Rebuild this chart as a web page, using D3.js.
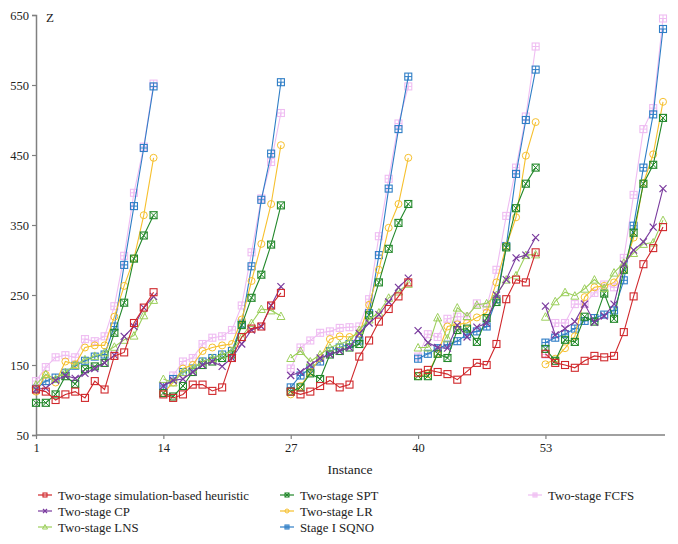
<!DOCTYPE html>
<html><head><meta charset="utf-8">
<script src="https://cdn.jsdelivr.net/npm/d3@7"></script>
<style>body{margin:0;background:#fff}svg{display:block}svg text{font-family:"Liberation Serif","DejaVu Serif","Times New Roman",serif}</style>
</head><body><svg id="c" width="678" height="544"></svg>
<script>
const instances = d3.range(1, 66);
const xTicks = [1, 14, 27, 40, 53];
const yTicks = [50, 150, 250, 350, 450, 550, 650];
const groupSize = 13;
const seriesNames = ["Two-stage simulation-based heuristic","Two-stage CP","Two-stage LNS","Two-stage SPT","Two-stage LR","Stage I SQNO","Two-stage FCFS"];
const heuristic = [115,112,100,108,112,103,127,115,163,168,210,232,254, 108,103,108,122,122,113,118,160,190,202,205,235,253, 112,108,112,120,128,118,122,162,185,212,230,248,268, 139,143,140,137,129,141,153,150,180,244,272,268,311, 166,153,150,146,156,163,161,163,197,248,294,317,347];
const cp = [115,117,128,135,131,138,145,153,164,191,205,232,248, 120,128,130,140,150,155,148,160,180,200,205,235,262, 135,140,150,160,165,170,175,195,210,222,240,261,274, 199,182,175,174,207,190,204,210,250,272,303,307,332, 234,193,202,212,237,211,220,237,294,314,326,347,402];
const lns = [122,137,130,140,150,158,163,168,176,186,192,221,243, 130,125,140,145,155,160,165,170,190,210,230,228,220, 160,170,155,165,175,180,185,200,215,225,246,255,266, 175,175,218,188,232,220,236,238,250,272,278,307,308, 219,241,254,249,259,272,260,282,296,310,323,325,357];
const spt = [96,96,108,134,123,144,148,153,196,239,302,335,364, 110,105,120,140,150,155,160,165,207,246,279,322,378, 112,118,138,130,165,170,175,180,221,268,316,353,380, 134,134,166,160,200,202,183,217,240,318,374,409,432, 173,156,186,183,219,212,252,216,286,339,409,436,503];
const lr = [112,136,125,155,151,175,178,178,219,263,302,364,446, 110,125,145,150,170,175,178,180,215,270,323,380,464, 108,120,140,160,187,191,190,195,236,286,346,380,446, 134,137,166,205,208,210,218,225,268,320,361,449,497, 151,159,174,191,247,261,263,268,287,332,410,451,526];
const sqno = [116,127,132,139,149,156,162,165,205,293,377,460,548, 120,130,140,145,155,160,165,170,209,291,386,452,554, 118,135,145,155,170,175,180,185,224,307,402,487,562, 159,166,174,179,184,194,198,205,244,320,423,500,572, 182,189,194,202,213,217,222,228,271,349,432,508,630];
const fcfs = [127,147,161,164,161,187,184,191,234,306,396,462,552, 120,135,155,160,180,189,191,200,235,311,388,440,510, 145,175,185,196,198,203,204,205,244,334,416,495,548, 162,194,190,216,219,219,238,233,286,363,432,505,605, 165,210,210,237,237,253,265,261,303,393,487,517,645];

const seriesValues = [heuristic, cp, lns, spt, lr, sqno, fcfs];
const colors = ["#d0282c","#7a3b9e","#9ccf5c","#22882a","#f6c02e","#2f7ec6","#efbdf2"];
const markers = ["square","x","triangle","squareX","circle","squarePlus","squarePlus"];
const FONT = '"Liberation Serif","DejaVu Serif","Times New Roman",serif';

const svg = d3.select("#c");
const x = d3.scaleLinear().domain([1, 65]).range([36, 663]);
const y = d3.scaleLinear().domain([50, 650]).range([435, 15]);

// axes
const yAxis = svg.append("g").attr("transform","translate(36,0)")
  .call(d3.axisLeft(y).tickValues(yTicks).tickSize(4).tickPadding(3));
const xAxis = svg.append("g").attr("transform","translate(0,435)")
  .call(d3.axisBottom(x).tickValues(xTicks).tickSize(4).tickPadding(4));
[yAxis, xAxis].forEach(a => {
  a.attr("font-family", FONT);
  a.select(".domain").attr("stroke","#808080").attr("stroke-width",1.5);
  a.selectAll(".tick line").attr("stroke","#808080").attr("stroke-width",1.2);
  a.selectAll("text").attr("fill","#222").attr("font-size",12.5).style("font-family", FONT);
});
xAxis.select(".domain").attr("d","M36,0H665");
svg.append("text").attr("x",350).attr("y",474).attr("text-anchor","middle").attr("font-size",13.5).style("font-family",FONT).attr("fill","#222").text("Instance");
svg.append("text").attr("x",46).attr("y",22).attr("font-size",13).style("font-family",FONT).attr("fill","#222").text("Z");

function drawMarker(g, type, color, cx, cy, s) {
  const h = s/2;
  if (type === "circle") {
    g.append("circle").attr("cx",cx).attr("cy",cy).attr("r",h).attr("fill","none").attr("stroke",color).attr("stroke-width",1);
  } else if (type === "triangle") {
    g.append("path").attr("d",`M${cx},${cy-h-0.5}L${cx+h+0.5},${cy+h}L${cx-h-0.5},${cy+h}Z`).attr("fill","none").attr("stroke",color).attr("stroke-width",1);
  } else if (type === "x") {
    g.append("path").attr("d",`M${cx-h},${cy-h}L${cx+h},${cy+h}M${cx-h},${cy+h}L${cx+h},${cy-h}`).attr("stroke",color).attr("stroke-width",1.2);
  } else {
    g.append("rect").attr("x",cx-h).attr("y",cy-h).attr("width",s).attr("height",s).attr("fill","none").attr("stroke",color).attr("stroke-width",1.1);
    if (type === "squareX") g.append("path").attr("d",`M${cx-h},${cy-h}L${cx+h},${cy+h}M${cx-h},${cy+h}L${cx+h},${cy-h}`).attr("stroke",color).attr("stroke-width",1);
    if (type === "squarePlus") g.append("path").attr("d",`M${cx-h},${cy}L${cx+h},${cy}M${cx},${cy-h}L${cx},${cy+h}`).attr("stroke",color).attr("stroke-width",1);
  }
}

const line = d3.line().x(d => x(d.i)).y(d => y(d.v));
const order = [6,5,4,3,2,1,0];
order.forEach(si => {
  const g = svg.append("g");
  const pts = instances.map((inst, k) => ({i: inst, v: seriesValues[si][k], grp: Math.floor(k/groupSize)}));
  d3.groups(pts, d => d.grp).forEach(([, seg]) => {
    g.append("path").attr("d", line(seg)).attr("fill","none").attr("stroke",colors[si]).attr("stroke-width",1.1);
  });
  pts.forEach(p => drawMarker(g, markers[si], colors[si], x(p.i), y(p.v), 7));
});

// legend
const legPos = [[38,495],[38,511],[38,527],[280,495],[280,511],[280,527],[528,495]];
seriesNames.forEach((name, si) => {
  const [lx, ly] = legPos[si];
  const g = svg.append("g");
  g.append("line").attr("x1",lx).attr("x2",lx+14).attr("y1",ly).attr("y2",ly).attr("stroke",colors[si]).attr("stroke-width",1.2);
  drawMarker(g, markers[si], colors[si], lx+7, ly, 4);
  g.append("text").attr("x",lx+20).attr("y",ly+4.5).attr("font-size",12.8).style("font-family",FONT).attr("fill","#222").text(name);
});
</script></body></html>
